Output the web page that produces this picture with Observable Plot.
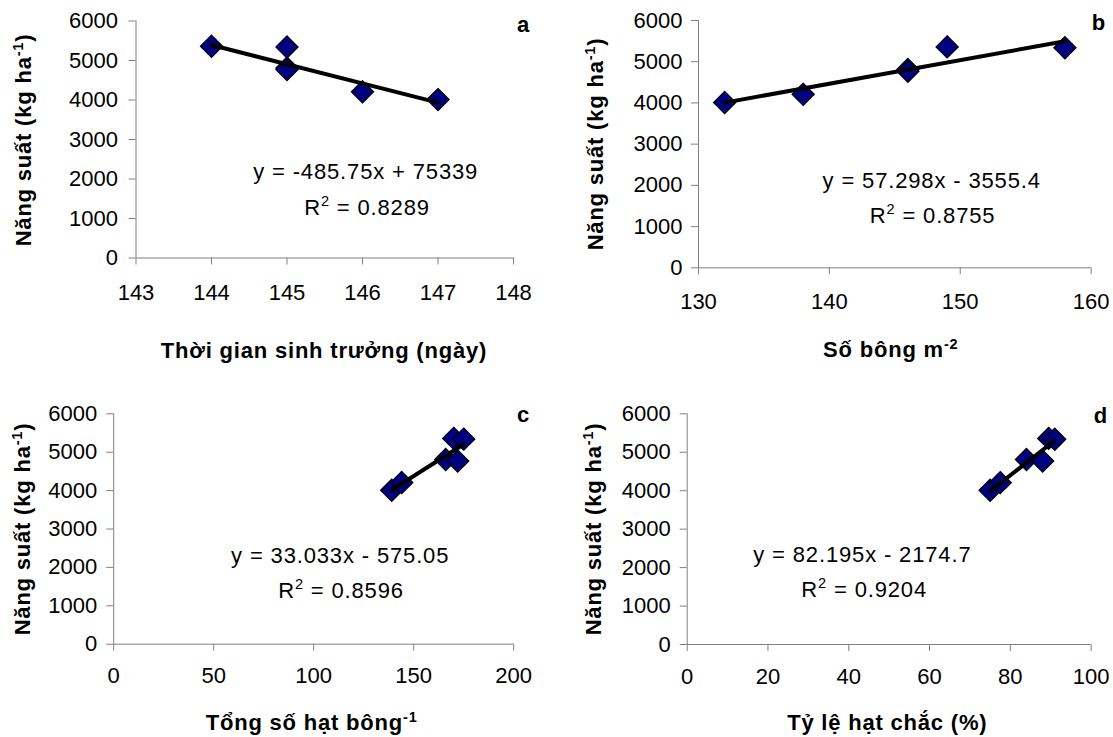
<!DOCTYPE html>
<html>
<head>
<meta charset="utf-8">
<script src="https://cdn.jsdelivr.net/npm/d3@7"></script>
<script src="https://cdn.jsdelivr.net/npm/@observablehq/plot@0.6"></script>
<style>
  html, body { margin: 0; padding: 0; background: #fff; }
  #root { position: relative; width: 1113px; height: 737px; background: #fff; overflow: hidden; }
  #root svg { position: absolute; overflow: visible; }
</style>
</head>
<body>
<div id="root"></div>
<script>
// ---------------- data ----------------
const yieldKg       = [4010, 4210, 4810, 4770, 5360, 5340];   // Năng suất (kg/ha)
const growthDays    = [147, 146, 145, 145, 144, 145];          // a
const paniclesM2    = [132, 138, 146, 146, 149, 158];          // b
const grainsPanicle = [139, 144, 166, 172, 170, 175];          // c
const filledPct     = [75, 77.5, 84, 88, 89.5, 91];            // d

const slopes     = [-485.75, 57.298, 33.033, 82.195];
const intercepts = [75339, -3555.4, -575.05, -2174.7];
const r2Values   = ["0.8289", "0.8755", "0.8596", "0.9204"];

const yTicks  = [0, 1000, 2000, 3000, 4000, 5000, 6000];
const xTicksA = [143, 144, 145, 146, 147, 148];
const xTicksB = [130, 140, 150, 160];
const xTicksC = [0, 50, 100, 150, 200];
const xTicksD = [0, 20, 40, 60, 80, 100];

const panelLetters = ["a", "b", "c", "d"];
const yTitle = [["Năng suất (kg ha", false], ["-1", true], [")", false]];
const xTitles = [
  [["Thời gian sinh trưởng (ngày)", false]],
  [["Số bông m", false], ["-2", true]],
  [["Tổng số hạt bông", false], ["-1", true]],
  [["Tỷ lệ hạt chắc (%)", false]]
];
const xSeries = [growthDays, paniclesM2, grainsPanicle, filledPct];
const xTickSets = [xTicksA, xTicksB, xTicksC, xTicksD];

// ---------------- layout (pixels) ----------------
const layout = [
  {left: 0,   top: 0,   w: 556, h: 370, ml: 135.5, mr: 43,   mt: 20.5, mb: 112.5, xPad: 19, yPad: 11,
   yT: [31, 140], xT: [324, 358.3], lab: [523, 32], eq: [365.7, 179], r2: [367, 215]},
  {left: 556, top: 0,   w: 557, h: 370, ml: 142,   mr: 22.4, mt: 20,   mb: 102.7, xPad: 19, yPad: 9,
   yT: [47, 144], xT: [334.8, 357], lab: [542.6, 30], eq: [375.7, 187.7], r2: [376.6, 222.7]},
  {left: 0,   top: 370, w: 556, h: 367, ml: 113.2, mr: 42.8, mt: 43.3, mb: 93.3, xPad: 16.5, yPad: 9.5,
   yT: [29.5, 159], xT: [311.6, 360], lab: [523, 51.7], eq: [340.2, 192.7], r2: [341, 227.7]},
  {left: 556, top: 370, w: 557, h: 367, ml: 130.7, mr: 22.4, mt: 43.3, mb: 93,   xPad: 16.5, yPad: 9.5,
   yT: [45, 159], xT: [331.3, 360], lab: [544.6, 53], eq: [306.4, 191.7], r2: [308.2, 226.7]}
];

const FONT = "'Liberation Sans', Arial, Helvetica, sans-serif";
const AXIS = "#808080";
const root = document.getElementById("root");

function fmtEq(m, b) {
  const sign = b < 0 ? " - " : " + ";
  return "y = " + m + "x" + sign + Math.abs(b);
}

function richText(g, parts, size, supShift) {
  let shifted = false;
  parts.forEach(([t, sup]) => {
    const ts = g.append("tspan").text(t);
    if (sup) {
      ts.attr("font-size", size * 0.66).attr("dy", -supShift);
      shifted = true;
    } else if (shifted) {
      ts.attr("dy", supShift);
      shifted = false;
    }
  });
}

panelLetters.forEach((letter, i) => {
  const L = layout[i];
  const xs = xSeries[i];
  const xt = xTickSets[i];
  const data = xs.map((x, k) => ({x, y: yieldKg[k]}));
  const x0 = d3.min(xs), x1 = d3.max(xs);
  const fit = [x0, x1].map(x => ({x, y: slopes[i] * x + intercepts[i]}));

  const svg = Plot.plot({
    width: L.w, height: L.h,
    marginLeft: L.ml, marginRight: L.mr, marginTop: L.mt, marginBottom: L.mb,
    style: {fontFamily: FONT, fontSize: "22px", color: "black", background: "transparent", overflow: "visible"},
    x: {domain: [xt[0], xt[xt.length - 1]]},
    y: {domain: [0, 6000]},
    marks: [
      Plot.axisX(xt, {tickSize: 7, tickPadding: L.xPad, stroke: AXIS, fill: "black", label: null,
                      tickFormat: d => String(d), fontSize: 22}),
      Plot.axisY(yTicks, {tickSize: 7, tickPadding: L.yPad, stroke: AXIS, fill: "black", label: null,
                      tickFormat: d => String(d), fontSize: 22}),
      Plot.ruleY([0], {stroke: AXIS, strokeWidth: 1}),
      Plot.ruleX([xt[0]], {stroke: AXIS, strokeWidth: 1}),
      Plot.dot(data, {x: "x", y: "y", symbol: "diamond2", r: 10, fill: "#000080", stroke: "black", strokeWidth: 1.2}),
      Plot.line(fit, {x: "x", y: "y", stroke: "black", strokeWidth: 4})
    ]
  });
  svg.style.left = L.left + "px";
  svg.style.top = L.top + "px";
  root.appendChild(svg);

  const s = d3.select(svg);
  // y-axis title
  const yt = s.append("text")
    .attr("transform", `translate(${L.yT[0]},${L.yT[1]}) rotate(-90)`)
    .attr("text-anchor", "middle").attr("font-family", FONT).attr("font-weight", "bold")
    .attr("font-size", 22).attr("letter-spacing", "0.8px").attr("fill", "black");
  richText(yt, yTitle, 22, 8);
  // x-axis title
  const xtT = s.append("text")
    .attr("x", L.xT[0]).attr("y", L.xT[1])
    .attr("text-anchor", "middle").attr("font-family", FONT).attr("font-weight", "bold")
    .attr("font-size", 22).attr("letter-spacing", "0.8px").attr("fill", "black");
  richText(xtT, xTitles[i], 22, 8);
  // panel letter
  s.append("text").attr("x", L.lab[0]).attr("y", L.lab[1])
    .attr("text-anchor", "middle").attr("font-family", FONT).attr("font-weight", "bold")
    .attr("font-size", 22).attr("fill", "black").text(letter);
  // equation
  s.append("text").attr("x", L.eq[0]).attr("y", L.eq[1])
    .attr("text-anchor", "middle").attr("font-family", FONT)
    .attr("font-size", 22).attr("letter-spacing", "0.85px").attr("fill", "black")
    .text(fmtEq(slopes[i], intercepts[i]));
  const r2t = s.append("text").attr("x", L.r2[0]).attr("y", L.r2[1])
    .attr("text-anchor", "middle").attr("font-family", FONT)
    .attr("font-size", 22).attr("letter-spacing", "0.85px").attr("fill", "black");
  richText(r2t, [["R", false], ["2", true], [" = " + r2Values[i], false]], 22, 9);
});
</script>
</body>
</html>
